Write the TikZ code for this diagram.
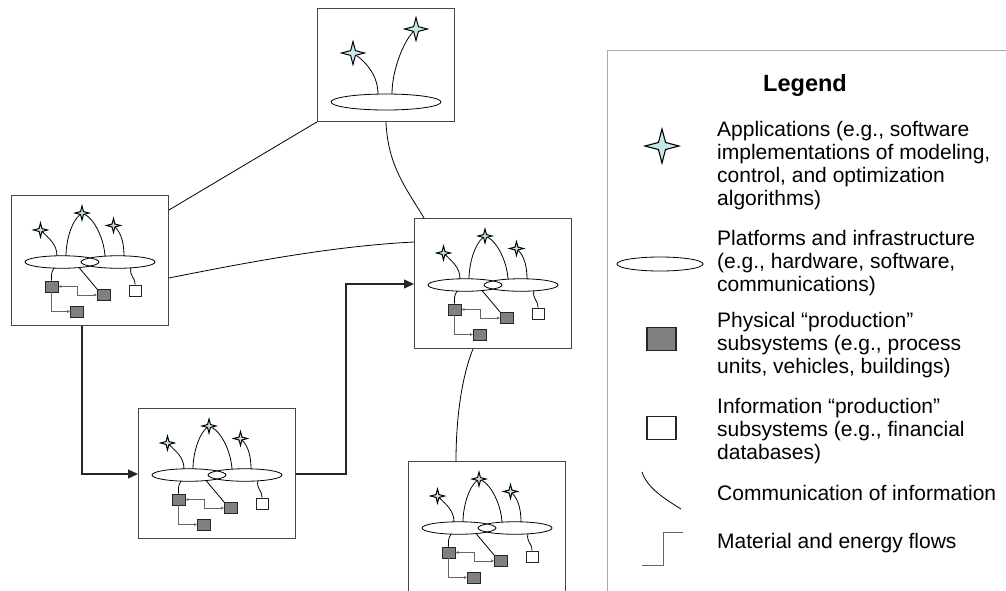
\documentclass[tikz,border=0pt]{standalone}
\usepackage{fontspec}
\setmainfont{Liberation Sans}
\usetikzlibrary{shapes.geometric,arrows.meta,calc}
\definecolor{starfill}{RGB}{196,232,236}
\definecolor{boxline}{RGB}{70,70,70}
\definecolor{physgray}{RGB}{128,128,128}
\definecolor{leggray}{RGB}{170,170,170}
\tikzset{
  app/.style={star, star points=4, star point ratio=3.4, draw=black, line width=1pt, fill=starfill, inner sep=0pt, minimum size=14pt},
  plat/.style={ellipse, draw=black, line width=0.8pt, inner sep=0pt},
  phys/.style={rectangle, draw=black!85, line width=0.8pt, fill=physgray, inner sep=0pt, minimum width=13pt, minimum height=11pt},
  info/.style={rectangle, draw=black!85, line width=0.8pt, fill=white, inner sep=0pt, minimum width=12pt, minimum height=11pt},
  comm/.style={draw=black, line width=0.8pt},
  flowsmall/.style={draw=black!60, line width=0.7pt},
  flowbig/.style={draw=black!85, line width=1.2pt},
  sysbox/.style={rectangle, draw=boxline, line width=0.9pt, fill=white, inner sep=0pt, minimum width=157pt, minimum height=130pt, anchor=north west},
  legtext/.style={anchor=west, align=left, font=\fontsize{21}{23}\selectfont, inner sep=0pt},
  subsys/.pic={
    \node[sysbox] (-box) at (0,0) {};
    \node[plat, minimum width=74pt, minimum height=12.5pt] (-e1) at (51,67) {};
    \node[plat, minimum width=74pt, minimum height=12.5pt] (-e2) at (107,67) {};
    \coordinate (-pa) at (46,61);
    \coordinate (-pb1) at (55,61);
    \coordinate (-pb2) at (94,61.2);
    \coordinate (-pc) at (113,61);
    \coordinate (-qa) at (43,73);
    \coordinate (-qb) at (68,72.5);
    \coordinate (-qw) at (120,72.8);
    \node[app] (-sA) at (29.5,35) {};
    \node[app] (-sB) at (71,18) {};
    \node[app] (-sC) at (102.5,30.5) {};
    \draw[comm] (-sA) .. controls +(8,8) and +(0,-12) .. (-pa);
    \draw[comm] (-sB) .. controls +(-10,8) and +(0,-16) .. (-pb1);
    \draw[comm] (-sB) .. controls +(12,6) and +(-1,-18) .. (-pb2);
    \draw[comm] (-sC) .. controls +(8,8) and +(0,-12) .. (-pc);
    \node[phys] (-d1) at (40.5,91.5) {};
    \node[phys] (-d2) at (93,100) {};
    \node[phys] (-d3) at (66,116.5) {};
    \node[info] (-w) at (124,95.5) {};
    \draw[comm] (-qa) .. controls +(-3,5) and +(0,-6) .. (-d1.north);
    \draw[comm] (-qb) -- (-d2.north west);
    \draw[comm] (-qw) .. controls +(-2,8) and +(0,-8) .. (-w.north);
    \draw[flowsmall, {Latex[length=3pt,width=3pt]}-{Latex[length=3pt,width=3pt]}] (-d2.west) -- ++(-20,0) |- (-d1.east);
    \draw[flowsmall, -{Latex[length=3pt,width=3pt]}] (-d1.south) |- (-d3.west);
  }
}
\begin{document}
\begin{tikzpicture}[x=1pt,y=-1pt]
\useasboundingbox (0,0) rectangle (1006,590);
\fill[white] (0,0) rectangle (1006,590);

% top box
\node[rectangle, draw=boxline, line width=0.9pt, fill=white, minimum width=137pt, minimum height=113pt, anchor=north west, inner sep=0pt] (T) at (317,8) {};
\node[plat, minimum width=110pt, minimum height=16pt] (Te) at (386,102) {};
\coordinate (Tp1) at (378,94.2);
\coordinate (Tp2) at (392,94.2);
\node[app, minimum size=23pt] (T1) at (353,53) {};
\node[app, minimum size=23pt] (T2) at (416,29) {};
\draw[comm] (T1) .. controls +(14,10) and +(0,-18) .. (Tp1);
\draw[comm] (T2) .. controls +(-12,12) and +(0,-25) .. (Tp2);

% subsystem boxes
\pic (L) at (11,195) {subsys};
\pic (M) at (138,408) {subsys};
\pic (R) at (414,218) {subsys};
\pic (B) at (408,461) {subsys};

% information links
\draw[comm] (T.south west) -- ($(L-box.north east)+(0,15)$);
\draw[comm] (T.south) .. controls +(2,44) and +(-18,-30) .. ($(R-box.north west)+(10,0)$);
\draw[comm] ($(L-box.north east)+(0,83)$) .. controls +(80,-16) and +(-80,4) .. ($(R-box.north west)+(0,24)$);
\draw[comm] ($(R-box.south west)+(59,0)$) .. controls +(-12,30) and +(0,-40) .. ($(B-box.north west)+(48,0)$);

% material flows
\draw[flowbig, -{Triangle[length=10pt,width=9pt]}] ($(L-box.south west)+(71,0)$) |- ($(M-box.north west)+(0,66)$);
\draw[flowbig, -{Triangle[length=10pt,width=9pt]}] ($(M-box.north east)+(0,66)$) -- ++(50,0) |- ($(R-box.north west)+(0,66)$);

% legend
\draw[leggray, line width=1pt] (1010,50) -- (607,50) -- (607,595);
\node[font=\bfseries\fontsize{23.5}{26}\selectfont, inner sep=0pt] (lt) at (805,85) {Legend};
\node[app, minimum size=34pt, line width=1.1pt] (ls) at (662,146) {};
\node[legtext] (l1) at (717,166) {Applications (e.g., software\\implementations of modeling,\\control, and optimization\\algorithms)};
\node[plat, minimum width=86pt, minimum height=14pt] (le) at (660,264) {};
\node[legtext] (l2) at (717,263) {Platforms and infrastructure\\(e.g., hardware, software,\\communications)};
\node[phys, minimum width=29pt, minimum height=23pt, line width=1.2pt] (lg) at (661.5,339) {};
\node[legtext] (l3) at (717,345) {Physical “production”\\subsystems (e.g., process\\units, vehicles, buildings)};
\node[info, minimum width=29pt, minimum height=23pt, line width=1.2pt] (lw) at (661.5,428) {};
\node[legtext] (l4) at (717,431) {Information “production”\\subsystems (e.g., financial\\databases)};
\coordinate (lc1) at (642,472);
\coordinate (lc2) at (681,509);
\draw[comm] (lc1) .. controls +(5,16) and +(-16,-10) .. (lc2);
\node[legtext] (l5) at (717,493) {Communication of information};
\coordinate (lm1) at (642,565);
\coordinate (lm2) at (683,532);
\draw[flowsmall] (lm1) -- ++(21,0) |- (lm2);
\node[legtext] (l6) at (717,543) {Material and energy flows};
\end{tikzpicture}
\end{document}
